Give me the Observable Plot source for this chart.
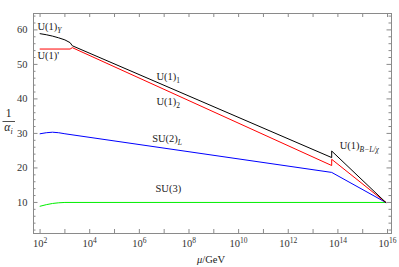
<!DOCTYPE html>
<html>
<head>
<meta charset="utf-8">
<script src="https://cdn.jsdelivr.net/npm/d3@7"></script>
<script src="https://cdn.jsdelivr.net/npm/@observablehq/plot@0.6"></script>
<style>
  html, body { margin: 0; padding: 0; background: white; }
  #chart { width: 399px; height: 267px; }
</style>
</head>
<body>
<div id="chart"></div>
<script>
// x values are log10(mu/GeV)
const lgBlack = [2, 2.25, 2.5, 2.75, 3.0, 3.21, 3.3, 13.75, 13.75, 15.93];
const invBlack = [58.9, 58.6, 58.2, 57.7, 57.1, 56.3, 55.4, 23.0, 24.9, 10.0];

const lgRed = [2, 3.21, 3.3, 13.75, 13.75, 15.93];
const invRed = [54.45, 54.45, 54.85, 20.7, 22.5, 10.0];

const lgBlue = [2, 2.25, 2.5, 2.75, 3.0, 13.75, 15.93];
const invBlue = [29.9, 30.2, 30.35, 30.2, 29.9, 18.7, 10.0];

const lgGreen = [2, 2.25, 2.5, 2.75, 3.0, 15.93];
const invGreen = [8.9, 9.35, 9.7, 9.9, 10.0, 10.0];

const xTickLabels = [2, 4, 6, 8, 10, 12, 14, 16];
const xTicksAll = [2, 3, 4, 5, 6, 7, 8, 9, 10, 11, 12, 13, 14, 15, 16];
const yTickLabels = [10, 20, 30, 40, 50, 60];
const yMinor = [2, 4, 6, 8, 12, 14, 16, 18, 22, 24, 26, 28, 32, 34, 36, 38, 42, 44, 46, 48, 52, 54, 56, 58, 62, 64];

const labelText = ["U(1)_{Y}", "U(1)'", "U(1)_{1}", "U(1)_{2}", "SU(2)_{L}", "SU(3)", "U(1)_{B−L/χ}"];
const labelX = [1.896, 1.896, 6.69, 6.69, 6.517, 6.65, 14.075];
const labelY = [60.95, 52.55, 46.32, 39.22, 28.44, 14.01, 26.47];

const zip = (xs, ys) => xs.map((x, i) => ({lm: x, v: ys[i]}));
const labels = labelText.map((t, i) => ({t, x: labelX[i], y: labelY[i]}));

const W = 399, H = 267, mL = 33, mR = 8, mT = 13, mB = 34;
const innerW = W - mL - mR, innerH = H - mT - mB;
const frameColor = "#8a8a8a";
const textColor = "#333";

const chart = Plot.plot({
  width: W, height: H,
  marginLeft: mL, marginRight: mR, marginTop: mT, marginBottom: mB,
  x: {domain: [1.735, 16.16], label: null},
  y: {domain: [1, 64.75], label: null},
  style: {fontFamily: "'Liberation Serif', serif", fontSize: "10.5px", color: textColor, background: "white"},
  marks: [
    Plot.line(zip(lgGreen, invGreen), {x: "lm", y: "v", stroke: "#00ee00", strokeWidth: 1}),
    Plot.line(zip(lgBlue, invBlue), {x: "lm", y: "v", stroke: "#0000ff", strokeWidth: 1}),
    Plot.line(zip(lgRed, invRed), {x: "lm", y: "v", stroke: "#ff0000", strokeWidth: 1}),
    Plot.line(zip(lgBlack, invBlack), {x: "lm", y: "v", stroke: "#000000", strokeWidth: 1}),
    Plot.tickX(xTicksAll, {x: d => d, insetTop: innerH - 4, stroke: frameColor}),
    Plot.tickX(xTicksAll, {x: d => d, insetBottom: innerH - 4, stroke: frameColor}),
    Plot.tickY(yTickLabels, {y: d => d, insetRight: innerW - 4.5, stroke: frameColor}),
    Plot.tickY(yTickLabels, {y: d => d, insetLeft: innerW - 4.5, stroke: frameColor}),
    Plot.tickY(yMinor, {y: d => d, insetRight: innerW - 2.5, stroke: frameColor}),
    Plot.tickY(yMinor, {y: d => d, insetLeft: innerW - 2.5, stroke: frameColor}),
    Plot.frame({stroke: frameColor}),
    Plot.axisX(xTickLabels, {tickSize: 0, tickPadding: 6.5, tickFormat: d => `10^{${d}}`, fill: textColor}),
    Plot.axisY(yTickLabels, {tickSize: 0, tickPadding: 6, fill: textColor}),
    Plot.text(labels, {x: "x", y: "y", text: "t", textAnchor: "start", fill: "#222", fontSize: 10.5})
  ]
});

document.getElementById("chart").appendChild(chart);

// Convert _{..} / ^{..} markup into real tspans
function rich(el, subSize, supSize) {
  const s = el.textContent;
  if (!/[_^]\{/.test(s)) return;
  el.textContent = "";
  const re = /([_^])\{([^}]*)\}|([^_^]+)/g;
  let m, cur = 0;
  while ((m = re.exec(s))) {
    const ts = d3.select(el).append("tspan");
    if (m[3] !== undefined) {
      ts.text(m[3]);
      if (cur !== 0) { ts.attr("dy", -cur); cur = 0; }
    } else {
      const target = m[1] === "_" ? 2.8 : -4;
      ts.text(m[2]).attr("dy", target - cur).attr("font-size", m[1] === "_" ? subSize : supSize);
      if (/[A-Za-zα-ωΑ-Ω]/.test(m[2])) ts.attr("font-style", "italic");
      cur = target;
    }
  }
}
d3.select(chart).selectAll("text").each(function() { rich(this, 7.5, 7.5); });

// y-axis label 1/α_i and x-axis label μ/GeV
const svg = d3.select(chart);
const g = svg.append("g").attr("fill", "#222").attr("font-family", "'Liberation Serif', serif").attr("font-size", 11.5);
g.append("text").attr("x", 8.5).attr("y", 117).attr("text-anchor", "middle").text("1");
g.append("line").attr("x1", 2.5).attr("x2", 15).attr("y1", 121.5).attr("y2", 121.5).attr("stroke", "#222").attr("stroke-width", 0.8);
const a = g.append("text").attr("x", 8.5).attr("y", 131).attr("text-anchor", "middle");
a.append("tspan").attr("font-style", "italic").text("α");
a.append("tspan").attr("font-style", "italic").attr("font-size", 8).attr("dy", 2.5).text("i");

const xl = g.append("text").attr("x", 211).attr("y", 263).attr("text-anchor", "middle").attr("font-size", 10.5);
xl.append("tspan").attr("font-style", "italic").text("μ");
xl.append("tspan").text("/GeV");
</script>
</body>
</html>
